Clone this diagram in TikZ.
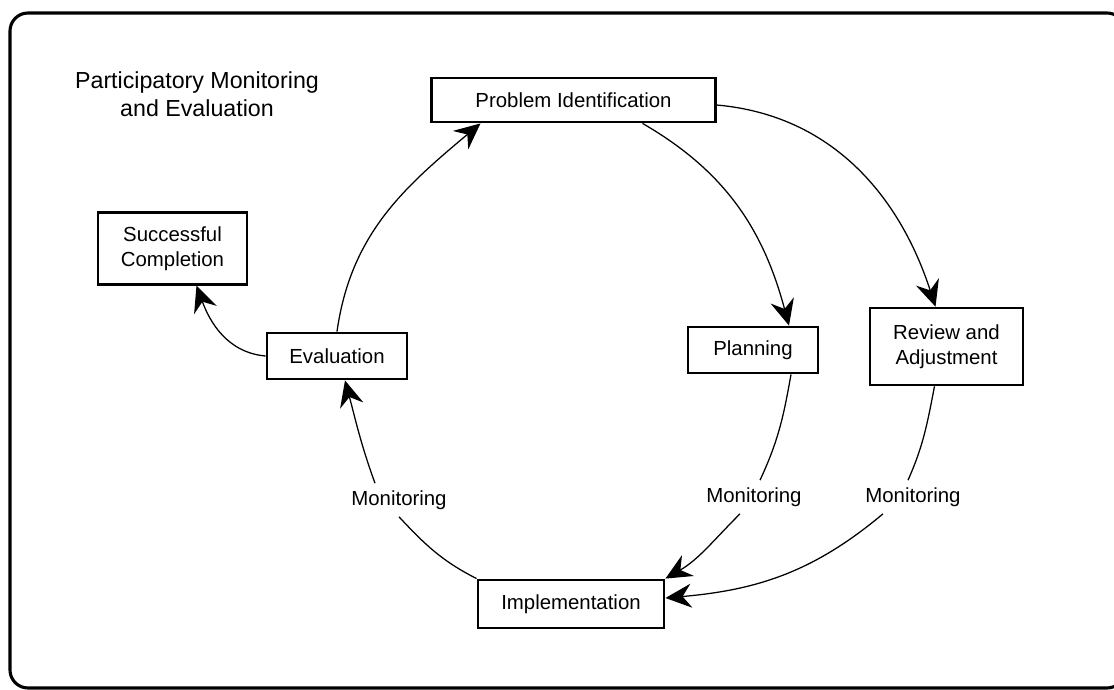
\documentclass[tikz,border=0pt]{standalone}
\usepackage{fontspec}
\setmainfont{Liberation Sans}
\usetikzlibrary{arrows.meta,calc}

\begin{document}
\begin{tikzpicture}[x=0.025cm, y=-0.025cm,
    every node/.append style={font=\fontsize{14.5}{18}\selectfont},
    box/.style={draw, line width=2pt, align=center, inner sep=0pt},
    mon/.style={inner sep=5pt},
    arr/.style={line width=0.9pt, -{Stealth[length=6.5mm, width=6mm, inset=2.2mm]}}]
        \useasboundingbox (0,0) rectangle (1114,690);
        \clip (0,0) rectangle (1114,690);
        \draw[line width=2.2pt, rounded corners=0.45cm] (10,13) rectangle (1125,688);

        \node[align=center, font=\fontsize{16.5}{20}\selectfont] (title) at (197,94) {Participatory Monitoring\\and Evaluation};

        \node[box, minimum width=7.08cm, minimum height=1.1cm] (prob) at (573.5,100) {Problem Identification};
        \node[box, minimum width=3.72cm, minimum height=1.78cm] (succ) at (172.5,248.5) {Successful\\Completion};
        \node[box, minimum width=3.5cm, minimum height=1.15cm] (eval) at (337,356) {Evaluation};
        \node[box, minimum width=3.25cm, minimum height=1.15cm] (plan) at (753,350) {Planning};
        \node[box, minimum width=3.82cm, minimum height=1.92cm] (rev) at (946.5,346.5) {Review and\\Adjustment};
        \node[box, minimum width=4.65cm, minimum height=1.2cm] (impl) at (571,604) {Implementation};

        \node[mon] (mon1) at (399,500) {Monitoring};
        \node[mon] (mon2) at (754,497) {Monitoring};
        \node[mon] (mon3) at (913,497) {Monitoring};

        \draw[arr] (eval.north) to[out=82, in=220] ($(prob.south)+(-93,0)$);
        \draw[arr] ($(prob.south)+(69,0)$) to[out=-30, in=105] ($(plan.north)+(36,0)$);
        \draw[arr] ($(prob.east)+(0,5)$) to[out=-5, in=108] ($(rev.north)+(-11,0)$);

        \draw[line width=0.9pt] ($(plan.south)+(38,0)$) to[out=-100, in=65] ($(mon2.north)+(6,0)$);
        \draw[arr] ($(mon2.south)+(-14,0)$) to[out=-135, in=30] (impl.north east);

        \draw[line width=0.9pt] ($(rev.south)+(-12,0)$) to[out=-101, in=66] ($(mon3.north)+(-5,0)$);
        \draw[arr] ($(mon3.south)+(-30,0)$) to[out=-140, in=5] ($(impl.east)+(0,-6)$);

        \draw[line width=0.9pt] (impl.north west) to[out=153, in=-47] (mon1.south);
        \draw[arr] ($(mon1.north)+(-24,0)$) to[out=110, in=-75] ($(eval.south)+(8,0)$);

        \draw[arr] (eval.west) to[out=175, in=-70] ($(succ.south)+(24,0)$);
    \end{tikzpicture}
\end{document}
